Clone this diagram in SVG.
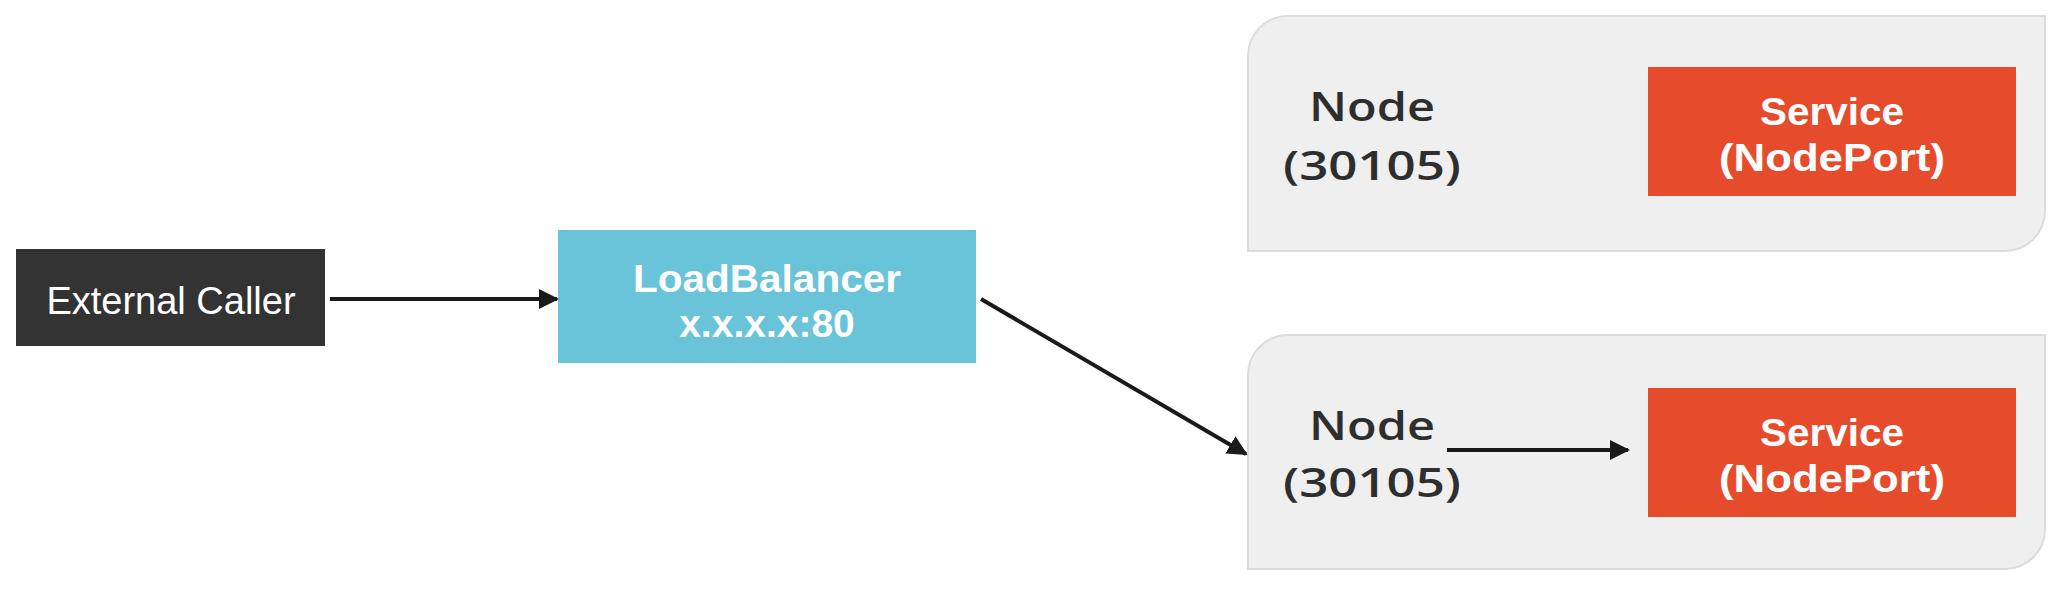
<svg xmlns="http://www.w3.org/2000/svg" width="2062" height="592" viewBox="0 0 2062 592">
<style>
.node-bg{fill:#efefef;stroke:#dcdcdc;stroke-width:2}
.svc{fill:#e64b2b}
.svct{font-family:"Liberation Sans",Arial,sans-serif;font-weight:bold;font-size:39px;fill:#fff;text-anchor:middle}
.nodet{font-family:"Open Sans","Noto Sans",sans-serif;font-weight:600;font-size:40px;fill:#2e2e2e;text-anchor:middle}
.lbt{font-family:"Liberation Sans",Arial,sans-serif;font-weight:bold;font-size:39px;fill:#fff;text-anchor:middle}
.conn{stroke:#1a1a1a;stroke-width:4;fill:none;marker-end:url(#ah)}
</style>
<defs>
<marker id="ah" viewBox="0 0 10 10" refX="9" refY="5" markerWidth="5" markerHeight="5" orient="auto" markerUnits="strokeWidth">
<path d="M0,0 L10,5 L0,10 Z" fill="#1a1a1a"/>
</marker>
</defs>
<rect width="2062" height="592" fill="#fff"/>
<g id="external-caller">
<rect x="16" y="249" width="309" height="97" fill="#333333"/>
<text x="171" y="314" font-family="Liberation Sans,Arial,sans-serif" font-size="38" fill="#fff" text-anchor="middle">External Caller</text>
</g>
<g id="load-balancer">
<rect x="558" y="230" width="418" height="133" fill="#69c3d9"/>
<text class="lbt" x="767" y="292" textLength="268" lengthAdjust="spacingAndGlyphs">LoadBalancer</text>
<text class="lbt" x="767" y="337">x.x.x.x:80</text>
</g>
<g id="node-top">
<path class="node-bg" d="M1248,251 V56 A40,40 0 0 1 1288,16 H2045 V211 A40,40 0 0 1 2005,251 Z"/>
<text class="nodet" x="1372" y="121" textLength="126" lengthAdjust="spacingAndGlyphs">Node</text>
<text class="nodet" x="1372" y="180" textLength="178" lengthAdjust="spacingAndGlyphs">(30105)</text>
</g>
<g id="service-top">
<rect class="svc" x="1648" y="67" width="368" height="129"/>
<text class="svct" x="1832" y="125" textLength="144" lengthAdjust="spacingAndGlyphs">Service</text>
<text class="svct" x="1832" y="171" textLength="226" lengthAdjust="spacingAndGlyphs">(NodePort)</text>
</g>
<g id="node-bottom">
<path class="node-bg" d="M1248,569 V375 A40,40 0 0 1 1288,335 H2045 V529 A40,40 0 0 1 2005,569 Z"/>
<text class="nodet" x="1372" y="440" textLength="126" lengthAdjust="spacingAndGlyphs">Node</text>
<text class="nodet" x="1372" y="497" textLength="178" lengthAdjust="spacingAndGlyphs">(30105)</text>
</g>
<g id="service-bottom">
<rect class="svc" x="1648" y="388" width="368" height="129"/>
<text class="svct" x="1832" y="446" textLength="144" lengthAdjust="spacingAndGlyphs">Service</text>
<text class="svct" x="1832" y="492" textLength="226" lengthAdjust="spacingAndGlyphs">(NodePort)</text>
</g>
<g id="connectors">
<line class="conn" x1="330" y1="299" x2="557" y2="299"/>
<line class="conn" x1="981" y1="299" x2="1246" y2="454"/>
<line class="conn" x1="1447" y1="450" x2="1628" y2="450"/>
</g>
</svg>
